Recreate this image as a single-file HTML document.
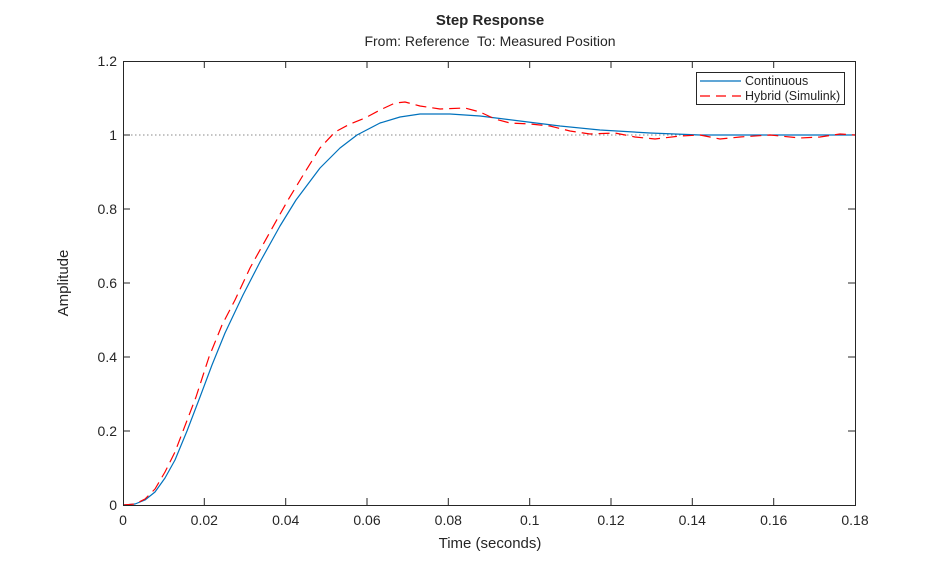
<!DOCTYPE html>
<html><head><style>body{margin:0;background:#fff}svg{display:block;font-family:"Liberation Sans",sans-serif}</style></head>
<body>
<svg width="946" height="569" viewBox="0 0 946 569">
<rect width="946" height="569" fill="#fff"/>
<text x="490" y="25" text-anchor="middle" font-size="15" font-weight="bold" fill="#262626">Step Response</text>
<text x="490" y="46" text-anchor="middle" font-size="14" fill="#262626" style="white-space:pre">From: Reference  To: Measured Position</text>
<line x1="123" y1="135" x2="855" y2="135" stroke="#888" stroke-dasharray="1.5,2.5"/>
<g stroke="#262626" stroke-width="1">
<path d="M204.3,505v-7M285.7,505v-7M367,505v-7M448.3,505v-7M529.7,505v-7M611,505v-7M692.3,505v-7M773.7,505v-7M204.3,61v7M285.7,61v7M367,61v7M448.3,61v7M529.7,61v7M611,61v7M692.3,61v7M773.7,61v7"/>
<path d="M123,431h7M123,357h7M123,283h7M123,209h7M123,135h7M855,431h-7M855,357h-7M855,283h-7M855,209h-7M855,135h-7"/>
</g>
<g font-size="14" fill="#262626" text-anchor="middle">
<text x="123" y="525">0</text><text x="204.3" y="525">0.02</text><text x="285.7" y="525">0.04</text><text x="367" y="525">0.06</text><text x="448.3" y="525">0.08</text><text x="529.7" y="525">0.1</text><text x="611" y="525">0.12</text><text x="692.3" y="525">0.14</text><text x="773.7" y="525">0.16</text><text x="855" y="525">0.18</text>
</g>
<g font-size="14" fill="#262626" text-anchor="end">
<text x="117" y="510">0</text><text x="117" y="436">0.2</text><text x="117" y="362">0.4</text><text x="117" y="288">0.6</text><text x="117" y="214">0.8</text><text x="117" y="140">1</text><text x="117" y="66">1.2</text>
</g>
<text x="490" y="548" text-anchor="middle" font-size="15" fill="#262626">Time (seconds)</text>
<text transform="translate(68,283) rotate(-90)" text-anchor="middle" font-size="15" fill="#262626">Amplitude</text>
<polyline fill="none" stroke="#0072bd" stroke-width="1.2" stroke-linejoin="round" points="123,505 135,504 145,500 155,492 165,478 175,460 187,431 200,397 212,365 225,333 243,295 260,262 280,226 296,200 320,168 340,148 357,135 380,123 400,117 420,114 450,114 480,116 520,121 560,126 600,130 650,133 700,135 855,135"/>
<polyline fill="none" stroke="#ff0000" stroke-width="1.2" stroke-dasharray="11,6" stroke-linejoin="round" points="123,505 135,504 145,499 155,489 165,472 175,452 183,431 196,397 209,357 222,325 235,300 250,268 270,232 288,200 305,172 320,148 335,132 350,124 365,118 380,110 395,103 405,102 420,106 440,109 465,108 480,112 495,119 510,123 530,124 550,126 570,131 590,134 615,133 635,137 655,139 680,136 700,135 720,139 740,137 770,135 800,138 820,137 840,134 855,135"/>
<rect x="123.5" y="61.5" width="732" height="444" fill="none" stroke="#262626"/>
<rect x="696.5" y="72.5" width="148" height="32" fill="#fff" stroke="#262626"/>
<line x1="700" y1="81" x2="741" y2="81" stroke="#0072bd" stroke-width="1.2"/>
<line x1="700" y1="96" x2="741" y2="96" stroke="#ff0000" stroke-width="1.2" stroke-dasharray="10,6"/>
<text x="745" y="85" font-size="12.5" fill="#262626">Continuous</text>
<text x="745" y="100" font-size="12.5" fill="#262626">Hybrid (Simulink)</text>
</svg>
</body></html>
